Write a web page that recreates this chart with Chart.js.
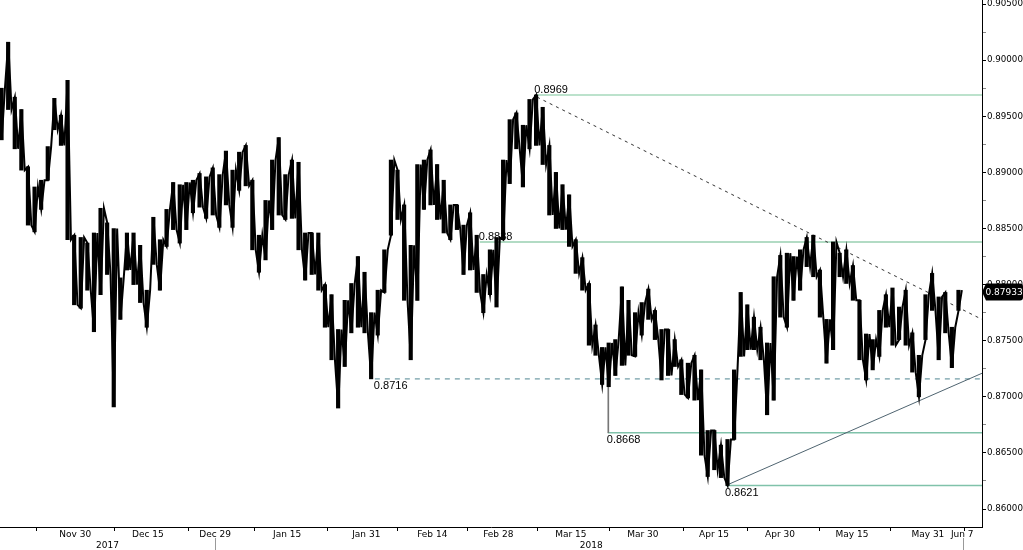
<!DOCTYPE html>
<html><head><meta charset="utf-8">
<script src="https://cdn.jsdelivr.net/npm/chart.js@4.4.1/dist/chart.umd.min.js"></script>
<style>html,body{margin:0;padding:0;background:#fff;}canvas{display:block;}</style>
</head><body>
<canvas id="c" width="1023" height="550"></canvas>
<script>
// ---- data (x unit = trading day index) ----
const highs = [
0.8975,0.9016,0.8967,0.8956,0.8905,0.8887,0.8893,0.8923,0.8966,0.8951,
0.8982,0.8844,0.8842,0.8837,0.8846,0.8868,0.8855,0.8850,0.8806,0.8846,
0.8846,0.8835,0.8795,0.8860,0.8840,0.8867,0.8891,0.8889,0.8891,0.8893,
0.8899,0.8896,0.8904,0.8898,0.8919,0.8902,0.8918,0.8924,0.8893,0.8844,
0.8875,0.8911,0.8931,0.8898,0.8911,0.8909,0.8846,0.8846,0.8846,0.8800,
0.8791,0.8760,0.8786,0.8801,0.8825,0.8811,0.8775,0.8795,0.8831,0.8911,
0.8902,0.8871,0.8835,0.8907,0.8911,0.8920,0.8907,0.8893,0.8871,0.8871,
0.8853,0.8864,0.8844,0.8809,0.8831,0.8842,0.8911,0.8947,0.8953,0.8942,
0.8965,0.8969,0.8958,0.8924,0.8900,0.8889,0.8880,0.8840,0.8824,0.8801,
0.8764,0.8744,0.8748,0.8751,0.8798,0.8786,0.8775,0.8784,0.8796,0.8777,
0.8760,0.8760,0.8751,0.8733,0.8730,0.8737,0.8724,0.8670,0.8670,0.8657,
0.8662,0.8724,0.8793,0.8782,0.8771,0.8762,0.8748,0.8807,0.8826,0.8828,
0.8825,0.8831,0.8842,0.8844,0.8813,0.8769,0.8838,0.8828,0.8831,0.8817,
0.8786,0.8756,0.8751,0.8777,0.8791,0.8797,0.8780,0.8795,0.8757,0.8737,
0.8791,0.8810,0.8789,0.8793,0.8762,0.8795];
const lows = [
0.8929,0.8956,0.8921,0.8902,0.8853,0.8847,0.8867,0.8893,0.8938,0.8924,
0.8840,0.8782,0.8779,0.8795,0.8758,0.8791,0.8809,0.8691,0.8769,0.8813,
0.8800,0.8784,0.8762,0.8818,0.8795,0.8834,0.8849,0.8837,0.8849,0.8864,
0.8869,0.8859,0.8862,0.8851,0.8871,0.8851,0.8884,0.8888,0.8831,0.8811,
0.8822,0.8849,0.8862,0.8858,0.8859,0.8831,0.8804,0.8809,0.8795,0.8762,
0.8733,0.8690,0.8727,0.8757,0.8762,0.8757,0.8716,0.8755,0.8793,0.8844,
0.8858,0.8786,0.8733,0.8786,0.8867,0.8871,0.8858,0.8846,0.8840,0.8849,
0.8809,0.8813,0.8793,0.8775,0.8791,0.8780,0.8840,0.8890,0.8921,0.8887,
0.8921,0.8924,0.8907,0.8862,0.8850,0.8849,0.8834,0.8810,0.8795,0.8746,
0.8737,0.8711,0.8709,0.8719,0.8728,0.8737,0.8736,0.8755,0.8769,0.8751,
0.8715,0.8719,0.8727,0.8702,0.8699,0.8697,0.8648,0.8629,0.8635,0.8628,
0.8621,0.8662,0.8736,0.8742,0.8742,0.8733,0.8684,0.8697,0.8771,0.8762,
0.8786,0.8795,0.8816,0.8807,0.8771,0.8730,0.8742,0.8807,0.8801,0.8786,
0.8733,0.8715,0.8724,0.8736,0.8762,0.8746,0.8751,0.8746,0.8722,0.8700,
0.8751,0.8777,0.8733,0.8757,0.8726,0.8777];
const lastClose = 0.87933;
const spikeDay = 92.1, spikeHigh = 0.8733, spikeLow = 0.8668;

const levels      = [0.8969, 0.8838, 0.8716, 0.8668, 0.8621];
const levelStarts = [81.1, 72.7, 56.8, 92.1, 110.0];
const levelBelow  = [false, false, true, true, true];
const downTrendX = [81.4, 148.8], downTrendY = [0.8967, 0.8769];
const upTrendX   = [110.0, 148.8], upTrendY  = [0.8621, 0.8721];

const xMax = 148.8;
const dateTickMarks = [5.6,17.4,28.5,38.6,49.7,60.3,70.8,81.5,92.4,103.5,113.3,124.2,135.0,146.1];
const dateLabels = ['Nov 30','Dec 15','Dec 29','Jan 15','Jan 31','Feb 14','Feb 28','Mar 15','Mar 30','Apr 15','Apr 30','May 15','May 31','Jun 7'];
const dateLabelPos = [11.4,22.4,32.6,43.5,55.5,65.5,75.5,86.5,97.4,108.2,118.2,129.1,140.6,145.8];
const yearLabels = ['2017','2018'];
const yearLabelPos = [16.3, 89.6];
const yearBreaks = [32.6, 145.9];
const yMajor = [0.860,0.865,0.870,0.875,0.880,0.885,0.890,0.895,0.900,0.905];
const yMinor = [0.8625,0.8675,0.8725,0.8775,0.8825,0.8875,0.8925,0.8975,0.9025];
const yMin = 0.8584, yMax = 0.90536;

// ---- build datasets from data ----
const zig = [], bars = [];
for (let i = 0; i < highs.length; i++) {
  const mid = (highs[i] + lows[i]) / 2;
  const nextMid = i + 1 < highs.length ? (highs[i+1] + lows[i+1]) / 2 : lastClose;
  const down = nextMid < mid;
  zig.push({x: i + 0.25, y: down ? highs[i] : lows[i]});
  zig.push({x: i + 0.75, y: down ? lows[i] : highs[i]});
  bars.push({x: i + 0.5, y: [lows[i], highs[i]]});
}
const levelStyles = [
  {c:'#a6d8bb', w:1.6, d:[]},
  {c:'#98cfb0', w:1.4, d:[]},
  {c:'#8aaeb6', w:1.5, d:[5,5]},
  {c:'#80c2aa', w:1.4, d:[]},
  {c:'#80c2aa', w:1.4, d:[]}
];
const datasets = [
  {type:'line', data: zig, borderColor:'#000', borderWidth:2, pointRadius:0, tension:0, order:1},
  {type:'bar', data: bars, backgroundColor:'#000', barThickness:3.5, order:2},
  {type:'bar', data: [{x: spikeDay, y:[spikeLow, spikeHigh]}], backgroundColor:'#777', barThickness:1, order:3}
];
levels.forEach((lv, i) => {
  datasets.push({type:'line', data:[{x:levelStarts[i], y:lv},{x:xMax, y:lv}],
    borderColor: levelStyles[i].c, borderWidth: levelStyles[i].w, borderDash: levelStyles[i].d,
    pointRadius:0, order:10});
});
datasets.push({type:'line', data:[{x:downTrendX[0], y:downTrendY[0]},{x:downTrendX[1], y:downTrendY[1]}],
  borderColor:'#333', borderWidth:1, borderDash:[3,4], pointRadius:0, order:9});
datasets.push({type:'line', data:[{x:upTrendX[0], y:upTrendY[0]},{x:upTrendX[1], y:upTrendY[1]}],
  borderColor:'#4f6470', borderWidth:1, pointRadius:0, order:9});

const isMajor = v => yMajor.some(m => Math.abs(m - v) < 1e-9);
const yAll = yMajor.concat(yMinor).sort((a,b)=>a-b);

const annot = {
  id: 'annot',
  afterDatasetsDraw(chart) {
    const {ctx, scales:{x, y}} = chart;
    ctx.save();
    ctx.font = '11px "Liberation Sans"';
    ctx.fillStyle = '#000';
    ctx.textAlign = 'left';
    levels.forEach((lv, i) => {
      const px = x.getPixelForValue(levelStarts[i]) - 1;
      const py = y.getPixelForValue(lv);
      if (levelBelow[i]) { ctx.textBaseline = 'top'; ctx.fillText(lv.toFixed(4), px, py + 2); }
      else { ctx.textBaseline = 'alphabetic'; ctx.fillText(lv.toFixed(4), px, py - 2); }
    });
    ctx.restore();
  },
  afterDraw(chart) {
    const {ctx, scales:{x, y}} = chart;
    ctx.save();
    ctx.strokeStyle = '#999'; ctx.lineWidth = 1;
    yearBreaks.forEach(b => {
      const px = Math.round(x.getPixelForValue(b)) + 0.5;
      ctx.beginPath(); ctx.moveTo(px, 538); ctx.lineTo(px, 550); ctx.stroke();
    });
    const py = y.getPixelForValue(lastClose);
    const l = y.left;
    ctx.fillStyle = '#000';
    ctx.beginPath();
    ctx.moveTo(l, py);
    ctx.lineTo(l + 4, py - 8.5);
    ctx.lineTo(1020, py - 8.5);
    ctx.quadraticCurveTo(1023, py - 8.5, 1023, py - 5.5);
    ctx.lineTo(1023, py + 5.5);
    ctx.quadraticCurveTo(1023, py + 8.5, 1020, py + 8.5);
    ctx.lineTo(l + 4, py + 8.5);
    ctx.closePath();
    ctx.fill();
    ctx.fillStyle = '#fff';
    ctx.font = '9px "DejaVu Sans"';
    ctx.textAlign = 'left'; ctx.textBaseline = 'middle';
    ctx.fillText(lastClose.toFixed(5), l + 3.5, py + 0.5);
    ctx.restore();
  }
};

const font9 = {family:'DejaVu Sans', size:9};
new Chart(document.getElementById('c'), {
  type: 'line',
  data: {datasets},
  plugins: [annot],
  options: {
    responsive: false, animation: false, devicePixelRatio: 1,
    layout: {padding: 0},
    plugins: {legend:{display:false}, tooltip:{enabled:false}},
    scales: {
      x: {type:'linear', position:'bottom', min:0, max:xMax, offset:false, weight:0,
        afterBuildTicks: s => { s.ticks = dateTickMarks.map(v => ({value:v})); },
        ticks: {display:false, autoSkip:false},
        grid: {display:true, drawOnChartArea:false, drawTicks:true, tickLength:4, color:'#000', offset:false},
        border: {display:true, color:'#000', width:1},
        afterFit: s => { s.height = 2; s.paddingLeft = 0; s.paddingRight = 0; }
      },
      xl: {type:'linear', position:'bottom', min:0, max:xMax, offset:false, weight:1,
        afterBuildTicks: s => { s.ticks = dateLabelPos.map(v => ({value:v})); },
        ticks: {autoSkip:false, maxRotation:0, minRotation:0, padding:0, color:'#000', font:font9,
          callback: (v, i) => dateLabels[i]},
        grid: {display:false, drawTicks:false}, border: {display:false},
        afterFit: s => { s.height = 11; s.paddingLeft = 0; s.paddingRight = 0; }
      },
      xy: {type:'linear', position:'bottom', min:0, max:xMax, offset:false, weight:2,
        afterBuildTicks: s => { s.ticks = yearLabelPos.map(v => ({value:v})); },
        ticks: {autoSkip:false, maxRotation:0, minRotation:0, padding:0, color:'#000', font:font9,
          callback: (v, i) => yearLabels[i]},
        grid: {display:false, drawTicks:false}, border: {display:false},
        afterFit: s => { s.height = 10; s.paddingLeft = 0; s.paddingRight = 0; }
      },
      y: {type:'linear', position:'right', min:yMin, max:yMax,
        afterBuildTicks: s => { s.ticks = yAll.map(v => ({value:v})); },
        ticks: {autoSkip:false, padding:1, color:'#000', font:{family:'DejaVu Sans', size:8.7},
          callback: v => isMajor(v) ? v.toFixed(5) : ''},
        grid: {display:true, drawOnChartArea:false, drawTicks:true, tickLength:4,
          color: ctx => (ctx.tick && isMajor(ctx.tick.value)) ? '#000' : '#888'},
        border: {display:true, color:'#000', width:1},
        afterFit: s => { s.width = 41; s.paddingTop = 0; s.paddingBottom = 0; }
      }
    }
  }
});
</script>
</body></html>
